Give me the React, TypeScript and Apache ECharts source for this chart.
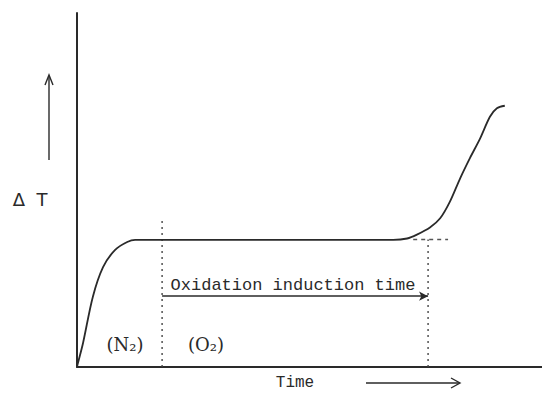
import React, { useEffect, useRef } from "react";
import * as echarts from "echarts";

// DTA curve (time in arbitrary units 0..100, ΔT in arbitrary units 0..100)
const time = [0, 0.2, 1.3, 3.4, 5.6, 8.2, 10.8, 12.5, 40, 68, 71, 73.1, 75.9, 78.1, 80.2, 82.4, 84.5, 86.7, 88.8, 90.3, 92.0];
const deltaT = [0, 1.1, 6.8, 19.8, 28.2, 33.1, 35.3, 35.9, 35.9, 35.9, 36.3, 37.4, 39.4, 42.0, 46.7, 53.3, 59.0, 64.6, 70.7, 73.1, 73.8];

// Reference lines
const gasSwitchTime = 18.3;
const onsetTime = 75.5;
const plateauLevel = 36;
const gasSwitchTop = 41.5;
const tangentStart = 72.3;
const tangentEnd = 79.8;
const arrowLevel = 20;

const labels = {
  oit: "Oxidation induction time",
  n2: "(N₂)",
  o2: "(O₂)",
  xName: "Time",
  yName: "Δ  T",
};

export default function App() {
  const ref = useRef<HTMLDivElement>(null);
  useEffect(() => {
    if (!ref.current) return;
    const chart = echarts.init(ref.current, null, { renderer: "svg" });
    const ink = "#2a2a2a";
    const dotted = { color: "#444", width: 1.4, type: [2, 4] as any };
    const serif = "DejaVu Serif";
    const mono = "Liberation Mono";
    chart.setOption({
      animation: false,
      backgroundColor: "#ffffff",
      grid: { left: 77, right: 0, top: 13, bottom: 28 },
      xAxis: {
        type: "value",
        min: 0,
        max: 100,
        axisLine: { show: true, lineStyle: { color: ink, width: 2 } },
        axisTick: { show: false },
        axisLabel: { show: false },
        splitLine: { show: false },
      },
      yAxis: {
        type: "value",
        min: 0,
        max: 100,
        axisLine: { show: true, lineStyle: { color: ink, width: 2 } },
        axisTick: { show: false },
        axisLabel: { show: false },
        splitLine: { show: false },
      },
      series: [
        {
          type: "line",
          data: time.map((t, i) => [t, deltaT[i]]),
          smooth: 0.3,
          showSymbol: false,
          lineStyle: { color: ink, width: 1.8 },
          z: 5,
        },
        {
          type: "line",
          data: [[gasSwitchTime, 0], [gasSwitchTime, gasSwitchTop]],
          showSymbol: false,
          lineStyle: dotted,
        },
        {
          type: "line",
          data: [[onsetTime, 0], [onsetTime, plateauLevel]],
          showSymbol: false,
          lineStyle: dotted,
        },
        {
          type: "line",
          data: [[tangentStart, plateauLevel], [tangentEnd, plateauLevel]],
          showSymbol: false,
          lineStyle: { color: "#555", width: 1.4, type: [4, 4] as any },
        },
        {
          type: "line",
          data: [],
          markLine: {
            silent: true,
            symbol: ["none", "arrow"],
            symbolSize: [7, 9],
            label: { show: false },
            lineStyle: { color: ink, width: 1.6, type: "solid" },
            data: [[{ coord: [gasSwitchTime, arrowLevel] }, { coord: [onsetTime, arrowLevel] }]],
          },
        },
      ],
      graphic: [
        {
          type: "text",
          x: 293,
          y: 285,
          style: { text: labels.oit, font: `17px "${mono}"`, fill: ink, textAlign: "center", textVerticalAlign: "middle" },
        },
        {
          type: "text",
          x: 125,
          y: 344,
          style: { text: labels.n2, font: `18px "${serif}"`, fill: ink, textAlign: "center", textVerticalAlign: "middle" },
        },
        {
          type: "text",
          x: 206,
          y: 344,
          style: { text: labels.o2, font: `18px "${serif}"`, fill: ink, textAlign: "center", textVerticalAlign: "middle" },
        },
        {
          type: "text",
          x: 295,
          y: 383,
          style: { text: labels.xName, font: `16px "${mono}"`, fill: ink, textAlign: "center", textVerticalAlign: "middle" },
        },
        {
          type: "text",
          x: 30,
          y: 199,
          style: { text: labels.yName, font: `18px "DejaVu Sans"`, fill: ink, textAlign: "center", textVerticalAlign: "middle" },
        },
        { type: "line", shape: { x1: 366, y1: 383, x2: 459, y2: 383 }, style: { stroke: ink, lineWidth: 1.4 } },
        { type: "polyline", shape: { points: [[451, 378], [460, 383], [451, 388]] }, style: { stroke: ink, lineWidth: 1.4, fill: "none" } },
        { type: "line", shape: { x1: 49, y1: 160, x2: 49, y2: 76 }, style: { stroke: ink, lineWidth: 1.4 } },
        { type: "polyline", shape: { points: [[45, 85], [49, 75], [53, 85]] }, style: { stroke: ink, lineWidth: 1.4, fill: "none" } },
      ],
    });
    return () => chart.dispose();
  }, []);
  return <div ref={ref} style={{ width: 542, height: 395, position: "absolute", left: 0, top: 0 }} />;
}
